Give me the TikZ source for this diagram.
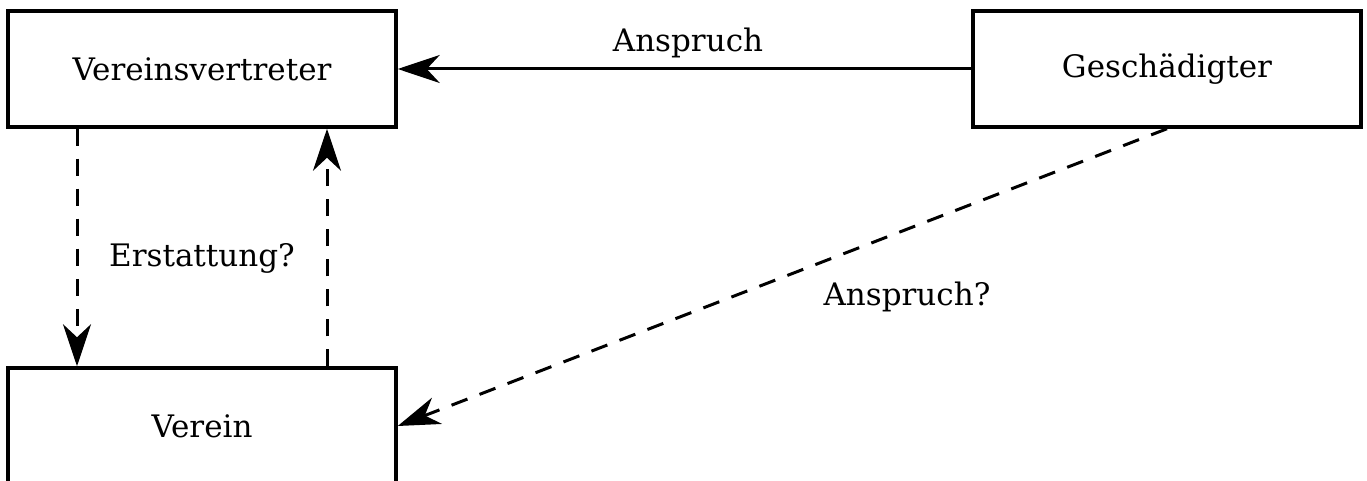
\documentclass[tikz,border=0pt]{standalone}
\usepackage{fontspec}
\setmainfont{DejaVu Serif}
\usetikzlibrary{arrows.meta}
\tikzset{
  box/.style={draw=black, line width=1.75pt, minimum width=194pt, minimum height=58pt,
              inner sep=0pt, font=\fontsize{15.5}{18}\selectfont},
  lbl/.style={font=\fontsize{15.5}{18}\selectfont, inner sep=1pt},
  arr/.style={-{Stealth[length=21pt,width=14pt,inset=6.5pt]}, line width=1.5pt},
  dsh/.style={arr, dash pattern=on 8.5pt off 6.5pt},
}

\begin{document}
\begin{tikzpicture}[x=0.5pt, y=-0.5pt]
\useasboundingbox (0,0) rectangle (1367,481);

% ---------------- parties ----------------
\node[box] (ver) at (202,69) {Vereinsvertreter};
\node[box] (ges) at (1167,69) {Geschädigter};
\node[box] (vrn) at (202,426) {Verein};

% ---------------- claims ----------------
\draw[arr] (ges.west) -- (ver.east);
\node[lbl] (anspr) at (688,43) {Anspruch};
\draw[dsh] ([xshift=-62.5pt]ver.south) -- ([xshift=-62.5pt]vrn.north);
\draw[dsh] ([xshift=62.5pt]vrn.north) -- ([xshift=62.5pt]ver.south);
\node[lbl] (erst) at (202,258) {Erstattung?};
\draw[dsh] (ges.south) -- (vrn.east);
\node[lbl] (ansprq) at (907,297) {Anspruch?};

\end{tikzpicture}
\end{document}
